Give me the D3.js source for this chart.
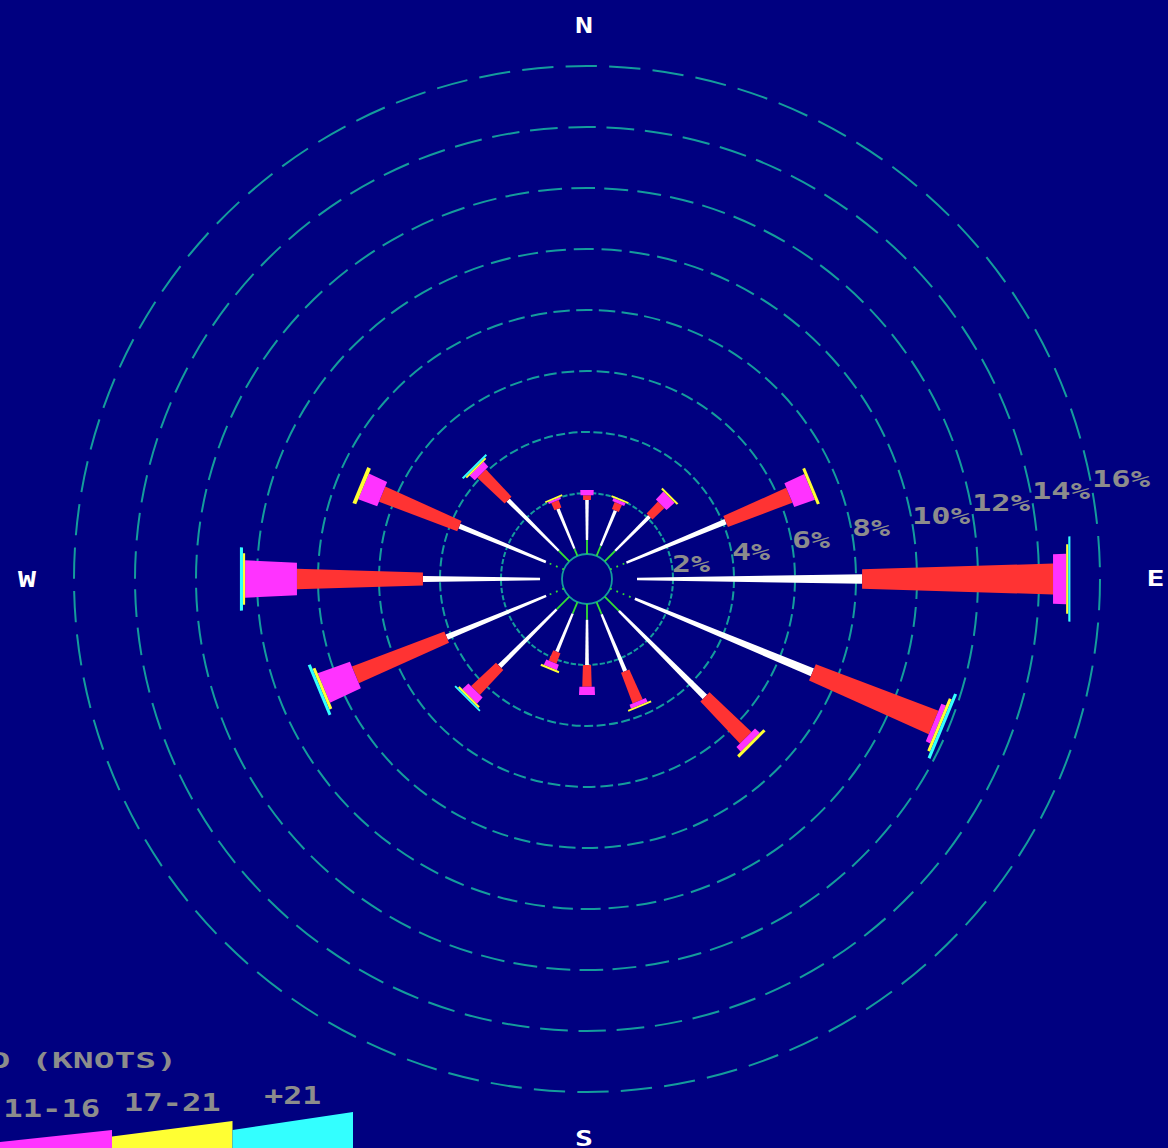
<!DOCTYPE html>
<html><head><meta charset="utf-8">
<script src="https://cdn.jsdelivr.net/npm/d3@7"></script>
<style>html,body{margin:0;padding:0;background:#000080;overflow:hidden}</style>
</head><body><svg id="c" width="1168" height="1148"></svg>
<script>
// ---------------- DATA ----------------
const directions = ["N","NNE","NE","ENE","E","ESE","SE","SSE","S","SSW","SW","WSW","W","WNW","NW","NNW"];
const speedClasses = ["1-3","4-6","7-10","11-16","17-21","+21"];
// frequency (%) per direction for each speed class
const freq1to3   = [0.46,0.36,0.49,0.58,0.82,0.88,0.66,0.43,0.52,0.41,0.59,0.63,0.72,0.64,0.49,0.26];
const freq4to6   = [1.31,1.25,1.59,3.52,7.38,6.30,3.99,2.02,1.48,1.35,2.64,3.53,3.84,3.07,2.35,1.41];
const freq7to10  = [0.16,0.25,0.54,2.26,6.26,4.30,1.89,1.07,0.71,0.37,1.12,3.24,4.13,2.74,1.23,0.26];
const freq11to16 = [0.17,0.11,0.36,0.72,0.43,0.16,0.21,0.14,0.27,0.19,0.27,1.12,1.70,0.66,0.23,0.07];
const freq17to21 = [0.00,0.03,0.07,0.10,0.07,0.10,0.10,0.06,0.00,0.07,0.07,0.10,0.07,0.13,0.06,0.03];
const freqOver21 = [0.00,0.00,0.00,0.00,0.07,0.10,0.00,0.00,0.00,0.00,0.06,0.10,0.10,0.00,0.07,0.00];
const ringTicks  = [2,4,6,8,10,12,14,16];
const ringLabels = ["2%","4%","6%","8%","10%","12%","14%","16%"];
const compassLabels = ["N","E","S","W"];
const legendTitle = "WIND SPEED (KNOTS)";

// ---------------- STYLE ----------------
const classColors = ["#33dd33","#ffffff","#ff3333","#ff33ff","#ffff33","#33ffff"];
const widthA = [0,1.2,3,5,7,8];
const widthB = [0,0.03,0.06,0.095,0.13,0.16];
const bg = "#000080", teal = "#149c9c", grey = "#8c8c8c";
const monoFont = "'DejaVu Sans Mono', 'Liberation Mono', monospace";

const W = 1168, H = 1148, cx = 587, cy = 579;
const svg = d3.select("#c");
svg.append("rect").attr("width", W).attr("height", H).attr("fill", bg);

const series = [freq1to3, freq4to6, freq7to10, freq11to16, freq17to21, freqOver21];
const rScale = d3.scaleLinear().domain([0, 16]).range([25, 513]);
const aScale = d3.scalePoint().domain(directions).range([0, 2 * Math.PI * 15 / 16]);

// rings
const gR = svg.append("g");
ringTicks.forEach(t => {
  const rr = rScale(t);
  const per = 2 * Math.PI * rr / 74;
  gR.append("circle").attr("cx", cx).attr("cy", cy).attr("r", rr)
    .attr("fill", "none").attr("stroke", teal).attr("stroke-width", 2)
    .attr("stroke-dasharray", `${(0.72 * per).toFixed(2)} ${(0.28 * per).toFixed(2)}`);
});
// calm circle
gR.append("circle").attr("cx", cx).attr("cy", cy).attr("r", rScale(0))
  .attr("fill", "none").attr("stroke", teal).attr("stroke-width", 1.8);

// bars
const gB = svg.append("g");
directions.forEach((d, i) => {
  const th = aScale(d);
  const ux = Math.sin(th), uy = -Math.cos(th);
  const nx = Math.cos(th), ny = Math.sin(th);
  const pt = (rr, off) => [cx + ux * rr + nx * off, cy + uy * rr + ny * off];
  let cum = 0;
  series.forEach((s, k) => {
    const v = s[i];
    if (v <= 0) return;
    const r0 = rScale(cum);
    let r1 = rScale(cum + v);
    cum += v;
    if (k === 0) {
      const sn = Math.abs(Math.sin(th));
      if (sn > 0.99) return;
      const a = pt(r0, 0), b = pt(r1, 0);
      gB.append("line").attr("x1", a[0]).attr("y1", a[1]).attr("x2", b[0]).attr("y2", b[1])
        .attr("stroke", classColors[0]).attr("stroke-width", 1.8)
        .attr("stroke-dasharray", sn > 0.9 ? "1.8 5" : null);
      return;
    }
    if (r1 - r0 < 1.8) r1 = r0 + 1.8;
    const w0 = (widthA[k] + widthB[k] * r0) / 2;
    const w1 = (widthA[k] + widthB[k] * r1) / 2;
    const poly = [pt(r0, -w0), pt(r1, -w1), pt(r1, w1), pt(r0, w0)];
    gB.append("path").attr("d", d3.line()(poly) + "Z")
      .attr("fill", classColors[k]).attr("stroke", "none");
  });
});

// ring labels
const gL = svg.append("g").attr("font-family", monoFont).attr("font-weight", "bold")
  .attr("fill", grey).attr("font-size", 23);
ringTicks.forEach((t, i) => {
  const txt = ringLabels[i];
  gL.append("text").attr("x", cx + rScale(t) - 0.5 * t).attr("y", 584.5 - 6.1 * t)
    .attr("textLength", txt.length * 20 - 2).attr("lengthAdjust", "spacingAndGlyphs")
    .text(txt);
});

// compass labels
const compassPos = {N: [584, 33], E: [1155.5, 586], S: [584, 1146], W: [27, 587]};
const gC = svg.append("g").attr("font-family", monoFont).attr("font-weight", "bold")
  .attr("fill", "#ffffff").attr("font-size", 22).attr("text-anchor", "middle");
compassLabels.forEach(c => {
  gC.append("text").attr("x", compassPos[c][0]).attr("y", compassPos[c][1])
    .attr("textLength", 18).attr("lengthAdjust", "spacingAndGlyphs").text(c);
});

// legend
const gLeg = svg.append("g");
const boxW = 120.5, boxRight = 353, legBottom = 1150;
gLeg.append("text").attr("x", -198).attr("y", 1068).attr("font-family", monoFont)
  .attr("font-weight", "bold").attr("font-size", 22).attr("fill", grey)
  .attr("textLength", legendTitle.length * 21 - 3).attr("lengthAdjust", "spacingAndGlyphs")
  .text(legendTitle);
speedClasses.forEach((c, k) => {
  const x0 = boxRight - (speedClasses.length - k) * boxW, x1 = x0 + boxW;
  const hL = Math.max(1, 6.5 * (k - 2) - 1.5);
  const hR = Math.max(3, hL + 13 + 2.5 * (k - 3));
  const poly = [[x0, legBottom], [x0, legBottom - 2 - hL], [x1, legBottom - 2 - hR], [x1, legBottom]];
  gLeg.append("path").attr("d", d3.line()(poly) + "Z").attr("fill", classColors[k]);
  gLeg.append("text").attr("x", (x0 + x1) / 2).attr("y", legBottom - 2 - hL - 26)
    .attr("text-anchor", "middle").attr("font-family", monoFont).attr("font-weight", "bold")
    .attr("font-size", 24).attr("fill", grey)
    .attr("textLength", c.length * 20 - 3).attr("lengthAdjust", "spacingAndGlyphs")
    .text(c);
});
</script></body></html>
